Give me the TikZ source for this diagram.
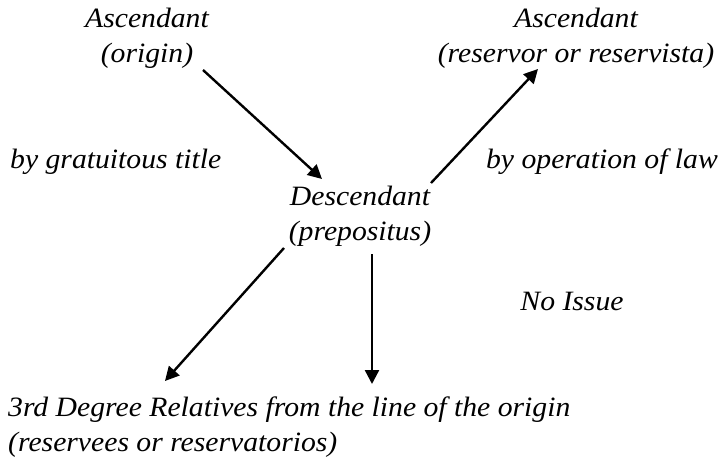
\documentclass[tikz,border=0pt]{standalone}
\usepackage{fontspec}
\setmainfont{Liberation Serif}[ItalicFeatures={FakeStretch=1.06}]
\usetikzlibrary{arrows.meta}
\begin{document}
\begin{tikzpicture}[x=1pt,y=-1pt,
  lbl/.style={font=\fontsize{28}{35}\selectfont\itshape, inner sep=0pt, align=center, anchor=base},
  lbll/.style={lbl, align=left, anchor=base west},
  link/.style={line width=2.4pt, -{Triangle[length=14pt,width=14pt]}}]
\useasboundingbox (0,0) rectangle (721,460);

% two-line labels are placed by the baseline of their last line
\node[lbl] (orig) at (147,63) {Ascendant\\(origin)};
\node[lbl] (resv) at (576,63) {Ascendant\\(reservor or reservista)};
\node[lbl, anchor=base west] (grat) at (10,168) {by gratuitous title};
\node[lbl, anchor=base east] (law) at (718,168) {by operation of law};
\node[lbl] (desc) at (360,240) {Descendant\\(prepositus)};
\node[lbl] (noiss) at (572,310) {No Issue};
\node[lbll] (rel) at (8,451) {3rd Degree Relatives from the line of the origin\\(reservees or reservatorios)};

\coordinate (o1) at (203,70);
\coordinate (o2) at (322,179);
\coordinate (r1) at (431,183);
\coordinate (r2) at (538,69);
\coordinate (d1) at (284,248);
\coordinate (d2) at (165,381);
\coordinate (v1) at (372,254);
\coordinate (v2) at (372,384);

\draw[link] (o1) -- (o2);
\draw[link] (r1) -- (r2);
\draw[link] (d1) -- (d2);
\draw[link] (v1) -- (v2);
\end{tikzpicture}
\end{document}
